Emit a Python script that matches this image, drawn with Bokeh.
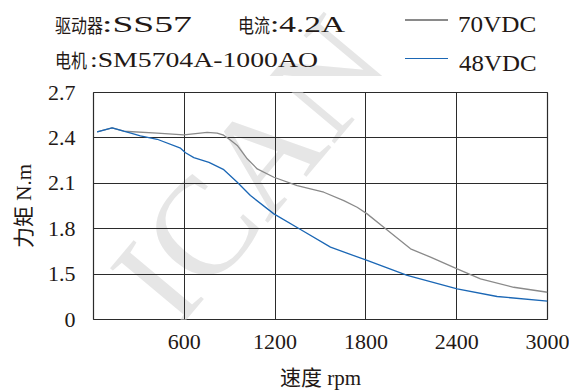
from bokeh.plotting import figure
from bokeh.layouts import column
from bokeh.models import Range1d, FixedTicker, Label, Div
from bokeh.embed import file_html
from bokeh.resources import INLINE

# ---- data ----
speed_70 = [24, 123, 200, 421, 597, 751, 817, 860, 900, 950, 1016, 1082, 1192, 1346,
            1522, 1654, 1742, 1808, 1918, 2095, 2227, 2403, 2557, 2777, 3000]
torque_70 = [2.44, 2.467, 2.444, 2.431, 2.42, 2.436, 2.432, 2.418, 2.39, 2.35, 2.262,
             2.195, 2.14, 2.085, 2.041, 1.986, 1.942, 1.898, 1.81, 1.667, 1.612,
             1.535, 1.469, 1.413, 1.38]

speed_48 = [24, 123, 200, 310, 421, 575, 608, 663, 763, 861, 950, 1037, 1192, 1368,
            1566, 1808, 2073, 2403, 2667, 3000]
torque_48 = [2.44, 2.467, 2.444, 2.414, 2.391, 2.332, 2.302, 2.27, 2.238, 2.19, 2.107,
             2.019, 1.898, 1.795, 1.678, 1.59, 1.491, 1.403, 1.352, 1.321]

x_ticks = [600, 1200, 1800, 2400, 3000]
y_ticks = [1.2, 1.5, 1.8, 2.1, 2.4, 2.7]
y_tick_overrides = {1.2: "0"}
x_grid = [600, 1200, 1800, 2400]
y_grid = [1.5, 1.8, 2.1, 2.4]

series_names = ["70VDC", "48VDC"]
series_colors = ["#8a8a8a", "#1b67b5"]
info_driver = ["驱动器", ":SS57"]
info_current = ["电流", ":4.2A"]
info_motor = ["电机", ":SM5704A-1000AO"]
x_label = "速度 rpm"
y_label = "力矩 N.m"
watermark = "ICAN"

# ---- layout (page pixels) ----
HEAD_H = 76
L, R, T, B = 93, 22, 16, 70
FW, FH = 454, 227
W = L + FW + R
X0, X1, Y0, Y1 = 0, 3000, 1.2, 2.7
FRAME_TOP = HEAD_H + T

def xd(px):
    return X0 + (px - L) / FW * (X1 - X0)

def yd(py):
    return Y0 + (FRAME_TOP + FH - py) / FH * (Y1 - Y0)

SERIF = "Liberation Serif"
CJK = "Noto Sans CJK SC"
MIX = "Liberation Serif, Noto Sans CJK SC"
TXT = "#231815"
WM_COLOR = "#e6e6e6"
WM_X, WM_Y, WM_DEG, WM_PX = 250, 169, 50, 140

# ---------------- header (info texts + legend) ----------------
def span(text, left, top, font, size, sx=1.0):
    return (f'<span style="position:absolute;left:{left}px;top:{top}px;'
            f"font-family:'{font}';font-size:{size}px;line-height:{size}px;"
            f'transform:scaleX({sx});transform-origin:0 50%;'
            f'color:{TXT};white-space:pre;">{text}</span>')

def key_line(left, top, color):
    return (f'<div style="position:absolute;left:{left}px;top:{top}px;width:43px;'
            f'height:1.6px;background:{color};"></div>')

CJK_PX, CJK_SX = 19.5, 0.82
parts = [
    (f'<span style="position:absolute;left:{WM_X}px;top:{WM_Y}px;'
     f"transform:translate(-50%,-50%) rotate(-{WM_DEG}deg);font-family:'{SERIF}';"
     f'font-size:{WM_PX}px;line-height:1;color:{WM_COLOR};white-space:pre;">{watermark}</span>'),
    span(info_driver[0], 55, 15.1, CJK, CJK_PX, CJK_SX),
    span(info_driver[1], 102, 12.8, SERIF, 23.5, 1.6),
    span(info_current[0], 238, 15.1, CJK, CJK_PX, CJK_SX),
    span(info_current[1], 270, 12.8, SERIF, 23.5, 1.42),
    span(info_motor[0], 55, 50.1, CJK, CJK_PX, CJK_SX),
    span(info_motor[1], 90, 48.8, SERIF, 22, 1.26),
    key_line(405, 19.2, series_colors[0]),
    span(series_names[0], 458, 12.8, SERIF, 23.5, 1.07),
    key_line(405, 57.5, series_colors[1]),
    span(series_names[1], 459, 51.5, SERIF, 23.5, 1.06),
]
head_html = (f'<div style="position:relative;width:{W}px;height:{HEAD_H}px;'
             f'overflow:hidden;background:white;">' + "".join(parts) + "</div>")
head = Div(text=head_html, width=W, height=HEAD_H, margin=(0, 0, 0, 0))

# ---------------- main chart ----------------
p = figure(frame_width=FW, frame_height=FH, x_range=Range1d(X0, X1),
           y_range=Range1d(Y0, Y1), output_backend="svg", toolbar_location=None,
           title=None, min_border_left=L, min_border_right=R,
           min_border_top=T, min_border_bottom=B, margin=(0, 0, 0, 0))

p.background_fill_color = "white"
p.border_fill_color = "white"
p.outline_line_color = "#2b2b2b"
p.outline_line_width = 1.2
p.outline_line_alpha = 1

p.xaxis.ticker = FixedTicker(ticks=x_ticks)
p.yaxis.ticker = FixedTicker(ticks=y_ticks)
p.yaxis.major_label_overrides = y_tick_overrides
for ax in (p.xaxis[0], p.yaxis[0]):
    ax.axis_line_color = None
    ax.major_tick_line_color = None
    ax.minor_tick_line_color = None
    ax.major_label_text_font = SERIF
    ax.major_label_text_font_size = "22px"
    ax.major_label_text_color = TXT
    ax.axis_label_text_font = MIX
    ax.axis_label_text_font_size = "21px"
    ax.axis_label_text_font_style = "normal"
    ax.axis_label_text_color = TXT
p.xaxis.axis_label = x_label
p.yaxis.axis_label = y_label
p.xaxis.major_label_standoff = 9
p.xaxis.axis_label_standoff = 14
p.yaxis.major_label_standoff = 12
p.yaxis.axis_label_standoff = 9

p.xgrid.ticker = FixedTicker(ticks=x_grid)
p.ygrid.ticker = FixedTicker(ticks=y_grid)
for g in (p.xgrid[0], p.ygrid[0]):
    g.grid_line_color = "#2b2b2b"
    g.grid_line_width = 1
    g.grid_line_alpha = 1

p.add_layout(Label(x=xd(WM_X), y=yd(WM_Y), text=watermark,
                   angle=WM_DEG * 3.141592653589793 / 180,
                   text_align="center", text_baseline="middle",
                   text_font=SERIF, text_font_size=f"{WM_PX}px",
                   text_color=WM_COLOR, level="image"))

p.line(speed_70, torque_70, line_color=series_colors[0], line_width=1.3)
p.line(speed_48, torque_48, line_color=series_colors[1], line_width=1.3)

layout = column(head, p, spacing=0)
open("out.html", "w").write(file_html(layout, INLINE))
